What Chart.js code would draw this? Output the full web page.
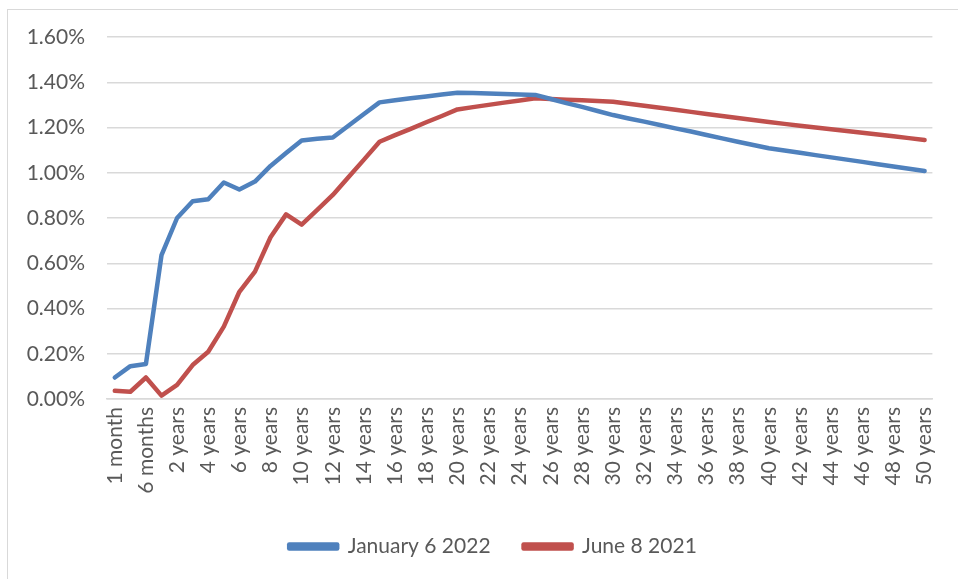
<!DOCTYPE html>
<html>
<head>
<meta charset="utf-8">
<script src="https://cdn.jsdelivr.net/npm/chart.js@4.4.1/dist/chart.umd.min.js"></script>
<style>
  html, body { margin: 0; padding: 0; background: #ffffff; }
  #wrap { position: relative; width: 958px; height: 579px; overflow: hidden; }
  #frame { position: absolute; left: 7px; top: 9px; width: 1000px; height: 1000px; border: 1px solid #d9d9d9; box-sizing: border-box; }
  canvas { position: absolute; left: 0; top: 0; }
</style>
</head>
<body>
<div id="wrap">
  <div id="frame"></div>
  <canvas id="c" width="958" height="579"></canvas>
</div>
<script>
const categories = ["1 month", "3 months", "6 months", "1 year",
  "2 years", "3 years", "4 years", "5 years", "6 years", "7 years", "8 years", "9 years", "10 years",
  "11 years", "12 years", "13 years", "14 years", "15 years", "16 years", "17 years", "18 years",
  "19 years", "20 years", "21 years", "22 years", "23 years", "24 years", "25 years", "26 years",
  "27 years", "28 years", "29 years", "30 years", "31 years", "32 years", "33 years", "34 years",
  "35 years", "36 years", "37 years", "38 years", "39 years", "40 years", "41 years", "42 years",
  "43 years", "44 years", "45 years", "46 years", "47 years", "48 years", "49 years", "50 years"];

const jan2022 = [0.095, 0.145, 0.155, 0.636,
  0.800, 0.874, 0.883, 0.957, 0.926, 0.961, 1.030, 1.087, 1.143,
  1.150, 1.156, 1.208, 1.260, 1.311, 1.320, 1.329, 1.337,
  1.346, 1.354, 1.352, 1.350, 1.348, 1.346, 1.344, 1.326,
  1.308, 1.291, 1.273, 1.255, 1.240, 1.226, 1.211, 1.196,
  1.182, 1.167, 1.152, 1.137, 1.123, 1.108, 1.098, 1.088,
  1.078, 1.068, 1.058, 1.048, 1.038, 1.028, 1.018, 1.008];

const jun2021 = [0.036, 0.032, 0.095, 0.015,
  0.062, 0.150, 0.209, 0.320, 0.474, 0.563, 0.715, 0.816, 0.771,
  0.836, 0.902, 0.980, 1.058, 1.137, 1.166, 1.194, 1.223,
  1.251, 1.280, 1.290, 1.300, 1.310, 1.319, 1.329, 1.326,
  1.323, 1.320, 1.317, 1.314, 1.305, 1.296, 1.287, 1.278,
  1.269, 1.260, 1.251, 1.242, 1.233, 1.224, 1.216, 1.208,
  1.200, 1.192, 1.185, 1.177, 1.169, 1.161, 1.153, 1.145];

const seriesNames = ["January 6 2022", "June 8 2021"];
const yTicks = [0, 0.2, 0.4, 0.6, 0.8, 1.0, 1.2, 1.4, 1.6];

const FONT = "Lato, 'Liberation Sans', sans-serif";
const TXT = "#595959";
const GRID = "#d9d9d9";

const legendShift = {
  id: "legendShift",
  afterLayout(chart) {
    if (chart.legend) { chart.legend.left += 24; chart.legend.right += 24; }
  }
};

new Chart(document.getElementById("c"), {
  type: "line",
  data: {
    labels: categories,
    datasets: [
      { label: seriesNames[0], data: jan2022, borderColor: "#4f81bd", backgroundColor: "#4f81bd",
        borderWidth: 4.5, pointRadius: 0, tension: 0, borderCapStyle: "round", borderJoinStyle: "round" },
      { label: seriesNames[1], data: jun2021, borderColor: "#c0504d", backgroundColor: "#c0504d",
        borderWidth: 4.5, pointRadius: 0, tension: 0, borderCapStyle: "round", borderJoinStyle: "round" }
    ]
  },
  plugins: [legendShift],
  options: {
    responsive: false,
    animation: false,
    layout: { padding: { left: 0, right: 20, top: 37, bottom: 12 } },
    plugins: {
      tooltip: { enabled: false },
      legend: {
        position: "bottom",
        labels: {
          color: TXT,
          font: { family: FONT, size: 21 },
          boxWidth: 48,
          boxHeight: 4,
          padding: 33
        }
      }
    },
    scales: {
      x: {
        offset: true,
        grid: { display: false, drawTicks: false },
        border: { display: true, color: GRID, width: 1.5 },
        ticks: {
          autoSkip: false,
          maxRotation: 90,
          minRotation: 90,
          padding: 8,
          color: TXT,
          font: { family: FONT, size: 21 },
          callback: function (v, i) { return i % 2 === 0 ? categories[i] : ""; }
        },
        afterFit: function (s) { s.height = 104; }
      },
      y: {
        min: 0,
        max: 1.6,
        afterBuildTicks: function (s) { s.ticks = yTicks.map(v => ({ value: v })); },
        grid: { color: GRID, lineWidth: 1.5, drawTicks: false },
        border: { display: false },
        ticks: {
          padding: 22,
          color: TXT,
          font: { family: FONT, size: 21 },
          callback: function (v) { return v.toFixed(2) + "%"; }
        },
        afterFit: function (s) { s.width = 107; }
      }
    }
  }
});
</script>
</body>
</html>
